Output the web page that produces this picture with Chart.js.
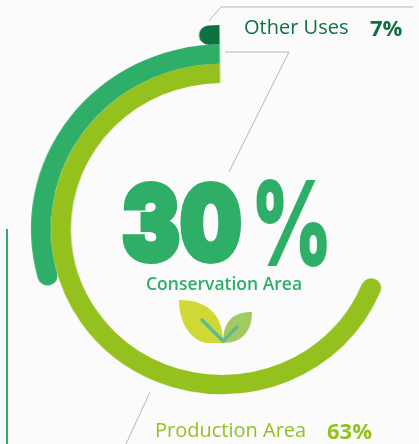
<!DOCTYPE html>
<html>
<head>
<meta charset="utf-8">
<script src="https://cdn.jsdelivr.net/npm/chart.js@4"></script>
<style>
  html,body{margin:0;padding:0;background:#fbfbfb;overflow:hidden}
  #wrap{position:relative;width:419px;height:444px;overflow:hidden;font-family:"Open Sans",sans-serif}
  /* rings are a little wider than tall */
  #ringBox{position:absolute;left:0;top:0;width:429px;height:458px;transform:scaleX(1.035);transform-origin:0 0}
  #deco{position:absolute;left:0;top:0}
  .t{position:absolute;white-space:nowrap;line-height:1}
  .big{font-family:Inter;font-weight:900;color:#2fae68;transform-origin:0 0}
</style>
</head>
<body>
<div id="wrap">
  <div id="ringBox"><canvas id="rings" width="429" height="458"></canvas></div>
  <svg id="deco" width="419" height="444">
    <rect x="6" y="229" width="2" height="215" fill="#2fae68"/>
    <path d="M209 21L221 7H413" fill="none" stroke="#b5b5bb" stroke-width="1"/>
    <path d="M225 52H289L229 172" fill="none" stroke="#b5b5bb" stroke-width="1"/>
    <path d="M150 392L126 444" fill="none" stroke="#b5b5bb" stroke-width="1"/>
    <path d="M223 343L206 343C190 340 179 322 179 300C205 300 223 312 223 343Z" fill="#d0d835"/>
    <path d="M223 343C243 343 252 330 252 312C232 312 223 322 223 343Z" fill="#a3c963"/>
    <path d="M202 320L223 341L237 327" fill="none" stroke="#5fbb8f" stroke-width="3.5" stroke-linecap="round" stroke-linejoin="round"/>
  </svg>
  <div class="t" style="left:244px;top:17px;font-size:20px;color:#0f7040">Other Uses</div>
  <div class="t" style="left:370px;top:16px;font-size:22px;font-weight:700;color:#0f7040">7%</div>
  <div class="t big" style="left:122px;top:171px;font-size:103px;-webkit-text-stroke:6px #2fae68;transform:scaleX(.84)">30</div>
  <div class="t big" style="left:251px;top:164px;font-size:118px;transform:scaleX(.66)">%</div>
  <div class="t" style="left:146px;top:275px;font-size:17.5px;font-weight:600;color:#2fae68">Conservation Area</div>
  <div class="t" style="left:155px;top:420px;font-size:20px;color:#95c11f">Production Area</div>
  <div class="t" style="left:327px;top:419px;font-size:22px;font-weight:700;color:#95c11f">63%</div>
</div>
<script>
// share of land per use, outermost ring first
const labels = ['Other Uses', 'Conservation Area', 'Production Area'];
const values = [7, 30, 63];
// each ring has its own full-circle total, so a value sweeps value/total of the turn
const ringTotals = [430, 100, 90.5];
const ringColors = ['#0f7040', '#2fae68', '#95c11f'];

function ring(i){
  const cap = {outerStart:10, innerStart:10, outerEnd:0, innerEnd:0};
  return {
    label: labels[i],
    // gap first so the value ends at the top and runs back anticlockwise
    data: [ringTotals[i]-values[i], values[i]],
    backgroundColor: ['rgba(0,0,0,0)', ringColors[i]],
    borderWidth: 0,
    borderRadius: ctx => ctx.dataIndex === 1 ? cap : 0
  };
}

new Chart(document.getElementById('rings'), {
  type: 'doughnut',
  data: {
    labels: ['', ''],
    datasets: [ring(0), ring(1), ring(2)]
  },
  options: {
    responsive: false,
    animation: false,
    rotation: -0.7,
    cutout: 146,
    radius: 204,
    layout: {padding: {left: 10, top: 25, right: 10, bottom: 25}},
    plugins: {legend: {display: false}, tooltip: {enabled: false}}
  }
});
</script>
</body>
</html>
